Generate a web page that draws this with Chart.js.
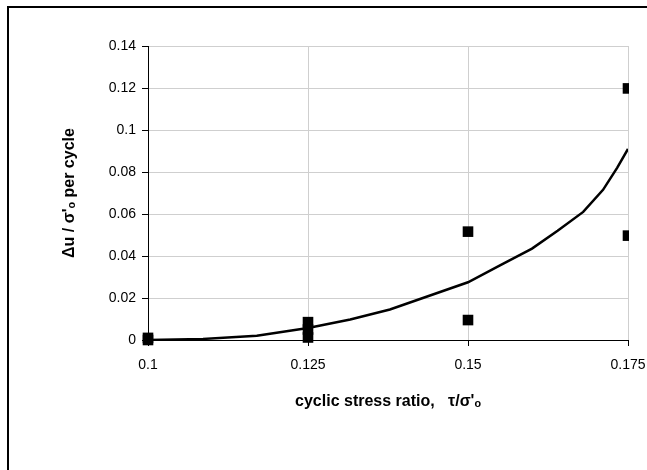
<!DOCTYPE html>
<html lang="en">
<head>
    <meta charset="UTF-8">
    <title>Pore pressure rise per cycle</title>
    <script src="https://cdn.jsdelivr.net/npm/chart.js@4.4.1/dist/chart.umd.min.js"></script>
    <style>
        html, body { margin: 0; padding: 0; background: #fff; }
        #wrap { width: 647px; height: 470px; }
    </style>
</head>
<body>
    <div id="wrap"><canvas id="chart"></canvas></div>

    <script>
        // measured points (stress ratio, du/sigma'o per cycle)
        const testX = [0.1, 0.1, 0.125, 0.125, 0.125, 0.15, 0.15, 0.175, 0.175];
        const testY = [0.001, 0.0, 0.0085, 0.005, 0.0012, 0.0516, 0.0095, 0.1198, 0.0497];

        // trend curve
        const curveX = [0.1, 0.1086, 0.117, 0.125, 0.1316, 0.1378, 0.15, 0.155, 0.16, 0.164, 0.168, 0.1711, 0.1733, 0.175];
        const curveY = [0, 0.0005, 0.002, 0.0057, 0.0098, 0.0145, 0.0275, 0.0355, 0.0435, 0.052, 0.061, 0.0715, 0.082, 0.091];

        const xTicks = [0.1, 0.125, 0.15, 0.175];
        const yTicks = [0, 0.02, 0.04, 0.06, 0.08, 0.1, 0.12, 0.14];

        const fontFamily = '"Liberation Sans", Arial, sans-serif';

        const framePlugin = {
            id: 'frame',
            afterDraw(chart) {
                const ctx = chart.ctx;
                ctx.save();
                ctx.strokeStyle = '#000';
                ctx.lineWidth = 2;
                ctx.beginPath();
                ctx.moveTo(8, 470);
                ctx.lineTo(8, 7);
                ctx.lineTo(647, 7);
                ctx.stroke();
                ctx.restore();
            }
        };

        new Chart(document.getElementById('chart'), {
            type: 'scatter',
            data: {
                datasets: [
                    {
                        type: 'line',
                        data: curveX.map((x, i) => ({ x: x, y: curveY[i] })),
                        borderColor: '#000',
                        borderWidth: 2.5,
                        pointRadius: 0,
                        tension: 0,
                        fill: false
                    },
                    {
                        data: testX.map((x, i) => ({ x: x, y: testY[i] })),
                        pointStyle: 'rect',
                        pointRadius: 7.5,
                        pointBorderWidth: 0,
                        backgroundColor: '#000',
                        borderColor: '#000',
                        clip: { left: false, top: false, right: 1, bottom: false }
                    }
                ]
            },
            options: {
                responsive: true,
                maintainAspectRatio: false,
                animation: false,
                layout: { padding: { left: 56, top: 46, right: 19, bottom: 55 } },
                plugins: {
                    legend: { display: false },
                    tooltip: { enabled: false }
                },
                scales: {
                    x: {
                        type: 'linear',
                        min: 0.1,
                        max: 0.175,
                        afterBuildTicks: (s) => { s.ticks = xTicks.map(v => ({ value: v })); },
                        afterFit: (s) => { s.height = 75; s.paddingRight = 0; s.paddingLeft = 0; },
                        ticks: {
                            color: '#000',
                            font: { family: fontFamily, size: 14 },
                            padding: 11,
                            maxRotation: 0,
                            callback: (v) => String(Number(v.toFixed(3)))
                        },
                        grid: { color: '#cfcfcf', tickColor: '#000', tickLength: 6, lineWidth: 1 },
                        border: { color: '#000', width: 1 },
                        title: {
                            display: true,
                            text: 'cyclic stress ratio,   \u03c4/\u03c3\'\u2092',
                            color: '#000',
                            font: { family: fontFamily, size: 16, weight: 'bold' },
                            padding: { top: 4, bottom: 4 }
                        }
                    },
                    y: {
                        min: 0,
                        max: 0.14,
                        afterBuildTicks: (s) => { s.ticks = yTicks.map(v => ({ value: v })); },
                        afterFit: (s) => { s.width = 92; },
                        ticks: {
                            color: '#000',
                            font: { family: fontFamily, size: 14 },
                            padding: 6,
                            callback: (v) => String(Number(v.toFixed(2)))
                        },
                        grid: { color: '#cfcfcf', tickColor: '#000', tickLength: 6, lineWidth: 1 },
                        border: { color: '#000', width: 1 },
                        title: {
                            display: true,
                            text: '\u0394u / \u03c3\'\u2092 per cycle',
                            color: '#000',
                            font: { family: fontFamily, size: 16, weight: 'bold' },
                            padding: { top: 4, bottom: 4 }
                        }
                    }
                }
            },
            plugins: [framePlugin]
        });
    </script>
</body>
</html>
